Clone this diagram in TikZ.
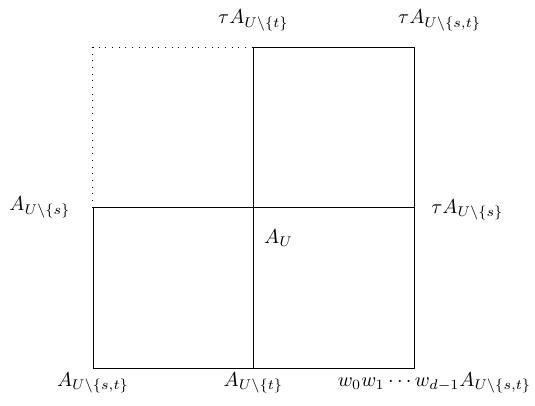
\documentclass[tikz,border=0pt]{standalone}
\usepackage{amsmath,amssymb}
\usetikzlibrary{positioning}

\begin{document}
\begin{tikzpicture}[
    x=2.8cm, y=2.8cm,
    cell/.style={draw, line width=0.4pt},
    ghost/.style={draw, dash pattern=on 0.5pt off 2.8pt, line width=0.5pt}
]
\useasboundingbox (-0.579,-0.2305) rectangle (2.754,2.293);

% corners
\coordinate (c00) at (0,0);
\coordinate (c10) at (1,0);
\coordinate (c20) at (2,0);
\coordinate (c01) at (0,1);
\coordinate (c11) at (1,1);
\coordinate (c21) at (2,1);
\coordinate (c02) at (0,2);
\coordinate (c12) at (1,2);
\coordinate (c22) at (2,2);

% cells
\draw[ghost] (c01) rectangle (c12);
\draw[cell] (c00) rectangle (c11);
\draw[cell] (c10) rectangle (c21);
\draw[cell] (c11) rectangle (c22);

% labels
\node (lst) at (0,-0.093) {$A_{U\setminus\{s,t\}}$};
\node (lt) at (1,-0.093) {$A_{U\setminus\{t\}}$};
\node (lw) at (2.128,-0.093) {$w_0w_1\cdots w_{d-1}A_{U\setminus\{s,t\}}$};
\node (ls) at (-0.33,1) {$A_{U\setminus\{s\}}$};
\node (lts) at (2.333,0.985) {$\tau A_{U\setminus\{s\}}$};
\node (lu) at (1.156,0.81) {$A_U$};
\node (ltt) at (1,2.168) {$\tau A_{U\setminus\{t\}}$};
\node (ltst) at (2.16,2.168) {$\tau A_{U\setminus\{s,t\}}$};

\end{tikzpicture}
\end{document}
